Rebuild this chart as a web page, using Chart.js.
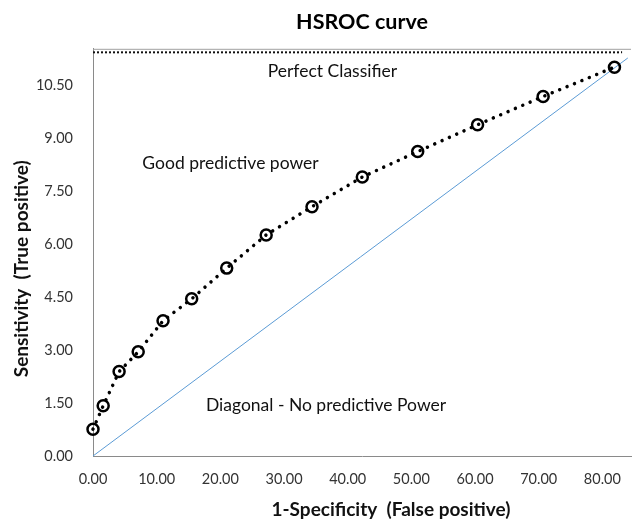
<!DOCTYPE html>
<html>
<head>
<meta charset="utf-8">
<script src="https://cdn.jsdelivr.net/npm/chart.js@4.4.1/dist/chart.umd.min.js"></script>
<style>
  html, body { margin: 0; padding: 0; background: #fff; }
  canvas { display: block; }
</style>
</head>
<body>
<canvas id="chart" width="639" height="522"></canvas>
<script>
// summary ROC points: false positive rate vs sensitivity
const fpr = [0, 1.6, 4.1, 7.1, 11.0, 15.5, 21.0, 27.2, 34.4, 42.3, 51.0, 60.4, 70.7, 81.9];
const sens = [0.76, 1.42, 2.39, 2.95, 3.83, 4.45, 5.32, 6.26, 7.06, 7.90, 8.62, 9.38, 10.18, 11.01];

// reference lines
const diagX = [0, 84];
const diagY = [0, 11.27];
const perfectX = [0, 83.1];
const perfectY = [11.43, 11.43];

const xTicks = [0, 10, 20, 30, 40, 50, 60, 70, 80];
const yTicks = [0, 1.5, 3, 4.5, 6, 7.5, 9, 10.5];

const noteText = ['Perfect Classifier', 'Good predictive power', 'Diagonal - No predictive Power'];
const noteAt = [[37.6, 10.88], [21.6, 8.30], [36.6, 1.44]];

const xTitle = '1-Specificity  (False positive)';
const yTitle = 'Sensitivity  (True positive)';

const FONT = 'Lato, "Open Sans", sans-serif';

const toPoints = (xs, ys) => xs.map((x, i) => ({ x: x, y: ys[i] }));

const notes = {
  id: 'notes',
  beforeDatasetsDraw(chart) {
    const { ctx, chartArea: a } = chart;
    ctx.save();
    ctx.strokeStyle = '#a0a0a0';
    ctx.lineWidth = 1;
    ctx.beginPath();
    ctx.moveTo(a.left, a.top + 0.5);
    ctx.lineTo(a.right, a.top + 0.5);
    ctx.stroke();
    ctx.restore();
  },
  afterDatasetsDraw(chart) {
    const { ctx, chartArea: a, scales: { x, y } } = chart;
    ctx.save();
    ctx.fillStyle = '#111';
    ctx.textAlign = 'center';
    ctx.textBaseline = 'middle';
    ctx.font = '17.5px ' + FONT;
    noteText.forEach((t, i) => {
      ctx.fillText(t, x.getPixelForValue(noteAt[i][0]), y.getPixelForValue(noteAt[i][1]));
    });
    ctx.font = 'bold 19px ' + FONT;
    ctx.fillText(xTitle, x.getPixelForValue(46.8), a.bottom + 54);
    ctx.translate(22, y.getPixelForValue(5.3));
    ctx.rotate(-Math.PI / 2);
    ctx.fillText(yTitle, 0, 0);
    ctx.restore();
  }
};

const config = {
  type: 'scatter',
  data: {
    datasets: [
      {
        label: 'HSROC',
        data: toPoints(fpr, sens),
        showLine: true,
        borderColor: '#000',
        borderWidth: 3.5,
        borderDash: [0.01, 8],
        borderCapStyle: 'round',
        pointRadius: 5.5,
        pointBorderWidth: 2.5,
        pointBorderColor: '#000',
        pointBackgroundColor: 'rgba(0,0,0,0)',
        clip: false,
      },
      {
        label: 'Diagonal',
        data: toPoints(diagX, diagY),
        showLine: true,
        borderColor: '#5b9bd5',
        borderWidth: 1,
        pointRadius: 0,
        clip: false,
      },
      {
        label: 'Perfect',
        data: toPoints(perfectX, perfectY),
        showLine: true,
        borderColor: '#111',
        borderWidth: 2,
        borderDash: [2, 2],
        pointRadius: 0,
        clip: false,
      },
    ],
  },
  options: {
    responsive: false,
    animation: false,
    layout: { padding: { left: 0, right: 1, top: 0, bottom: 0 } },
    plugins: {
      legend: { display: false },
      tooltip: { enabled: false },
      title: {
        display: true,
        text: 'HSROC curve',
        fullSize: false,
        color: '#000',
        font: { family: FONT, size: 21.5, weight: 'bold' },
        padding: { top: 9, bottom: 14 },
      },
    },
    scales: {
      x: {
        type: 'linear',
        min: 0,
        max: 84.5,
        afterBuildTicks: (s) => { s.ticks = xTicks.map((v) => ({ value: v })); },
        afterFit: (s) => { s.height = 66; },
        grid: { display: false },
        border: { color: '#8a8a8a', width: 1 },
        ticks: {
          callback: (v) => Number(v).toFixed(2),
          color: '#333',
          font: { family: FONT, size: 14.5 },
          padding: 7,
          maxRotation: 0,
          autoSkip: false,
        },
      },
      y: {
        type: 'linear',
        min: 0,
        max: 11.53,
        afterBuildTicks: (s) => { s.ticks = yTicks.map((v) => ({ value: v })); },
        afterFit: (s) => { s.width = 93; },
        grid: { display: false },
        border: { color: '#8a8a8a', width: 1 },
        ticks: {
          callback: (v) => Number(v).toFixed(2),
          color: '#333',
          font: { family: FONT, size: 14.5 },
          padding: 12,
          autoSkip: false,
        },
      },
    },
  },
  plugins: [notes],
};

const myChart = new Chart(document.getElementById('chart'), config);
</script>
</body>
</html>
